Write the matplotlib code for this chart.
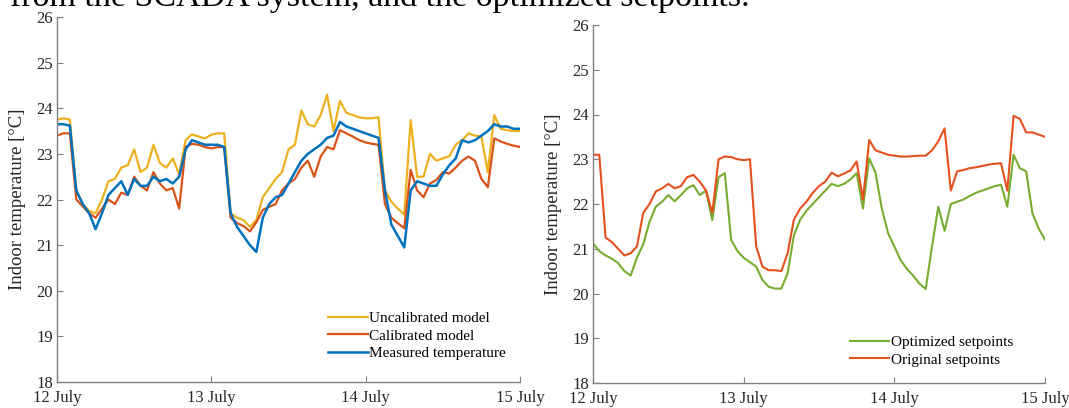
import matplotlib.pyplot as plt

plt.rcParams['font.family'] = ['Liberation Serif', 'DejaVu Serif']

# hours since 12 July 00:00, hourly readings
hours = list(range(73))

uncalibrated = [23.75, 23.78, 23.75, 22.2, 21.9, 21.75, 21.7, 22.0, 22.4, 22.45,
                22.7, 22.75, 23.1, 22.6, 22.7, 23.2, 22.8, 22.7, 22.9, 22.55,
                23.3, 23.43, 23.38, 23.34, 23.42, 23.45, 23.45, 21.7, 21.6, 21.55,
                21.4, 21.55, 22.05, 22.25, 22.45, 22.6, 23.1, 23.2, 23.95, 23.65,
                23.6, 23.85, 24.3, 23.5, 24.16, 23.9, 23.85, 23.8, 23.78, 23.78,
                23.8, 22.2, 21.95, 21.8, 21.67, 23.74, 22.5, 22.5, 23.0, 22.85,
                22.9, 22.95, 23.2, 23.3, 23.45, 23.4, 23.38, 22.6, 23.85, 23.55,
                23.52, 23.5, 23.5]

calibrated = [23.4, 23.45, 23.45, 22.0, 21.85, 21.7, 21.6, 21.8, 22.0, 21.9,
              22.15, 22.1, 22.5, 22.3, 22.2, 22.6, 22.35, 22.2, 22.25, 21.8,
              23.15, 23.22, 23.2, 23.15, 23.12, 23.15, 23.15, 21.6, 21.48, 21.42,
              21.3, 21.5, 21.77, 21.84, 21.9, 22.2, 22.35, 22.45, 22.7, 22.85,
              22.5, 22.94, 23.15, 23.1, 23.52, 23.45, 23.38, 23.3, 23.25, 23.22,
              23.2, 21.9, 21.6, 21.48, 21.37, 22.65, 22.2, 22.05, 22.35, 22.43,
              22.6, 22.57, 22.7, 22.85, 22.94, 22.85, 22.45, 22.27, 23.34, 23.27,
              23.22, 23.18, 23.15]

measured = [23.65, 23.65, 23.62, 22.2, 21.9, 21.7, 21.35, 21.7, 22.1, 22.25,
            22.4, 22.1, 22.45, 22.3, 22.3, 22.5, 22.4, 22.45, 22.35, 22.5,
            23.1, 23.3, 23.25, 23.2, 23.2, 23.2, 23.15, 21.7, 21.4, 21.2,
            21.0, 20.85, 21.6, 21.9, 22.05, 22.1, 22.35, 22.6, 22.85, 23.0,
            23.1, 23.2, 23.35, 23.4, 23.7, 23.6, 23.55, 23.5, 23.45, 23.4,
            23.35, 22.2, 21.45, 21.2, 20.95, 22.2, 22.4, 22.35, 22.3, 22.3,
            22.55, 22.75, 22.9, 23.3, 23.25, 23.3, 23.4, 23.5, 23.65, 23.6,
            23.6, 23.55, 23.55]

optimized = [21.12, 20.95, 20.85, 20.78, 20.68, 20.5, 20.4, 20.8, 21.1, 21.6,
             21.94, 22.05, 22.2, 22.06, 22.2, 22.35, 22.42, 22.2, 22.3, 21.64,
             22.6, 22.69, 21.2, 20.95, 20.8, 20.7, 20.6, 20.3, 20.15, 20.11,
             20.11, 20.45, 21.3, 21.65, 21.85, 22.0, 22.15, 22.3, 22.45, 22.4,
             22.45, 22.55, 22.69, 21.9, 23.02, 22.7, 21.9, 21.35, 21.05, 20.75,
             20.55, 20.4, 20.22, 20.1, 21.05, 21.94, 21.4, 22.0, 22.05, 22.1,
             22.18, 22.25, 22.3, 22.35, 22.4, 22.43, 21.94, 23.1, 22.8, 22.73,
             21.79, 21.45, 21.2]

original = [23.1, 23.1, 21.25, 21.15, 21.0, 20.85, 20.9, 21.05, 21.8, 22.0,
            22.28, 22.35, 22.45, 22.35, 22.4, 22.6, 22.65, 22.5, 22.3, 21.8,
            23.0, 23.06, 23.05, 23.0, 22.98, 23.0, 21.05, 20.6, 20.52, 20.52,
            20.5, 20.9, 21.65, 21.9, 22.05, 22.25, 22.4, 22.5, 22.7, 22.62,
            22.68, 22.75, 22.95, 22.1, 23.43, 23.2, 23.15, 23.1, 23.08, 23.06,
            23.06, 23.07, 23.08, 23.08, 23.2, 23.4, 23.69, 22.3, 22.73, 22.76,
            22.8, 22.82, 22.85, 22.88, 22.9, 22.91, 22.3, 23.97, 23.9, 23.6,
            23.6, 23.55, 23.5]

day_ticks = [0, 24, 48, 72]
day_labels = ['12 July', '13 July', '14 July', '15 July']
temp_ticks = list(range(18, 27))

W, H = 1069, 408
fig = plt.figure(figsize=(W / 100, H / 100), dpi=100)

fig.text(10 / W, 1 - 6 / H, 'from the SCADA system, and the optimized setpoints.',
         fontsize=24.5, va='baseline', ha='left', color='black')

ax1 = fig.add_axes([57 / W, 1 - 382 / H, (520 - 57) / W, (382 - 17) / H])
ax2 = fig.add_axes([593 / W, 1 - 383 / H, (1045 - 593) / W, (383 - 25) / H])

ax1.plot(hours, uncalibrated, color='#EDB120', lw=1.6, label='Uncalibrated model')
ax1.plot(hours, calibrated, color='#D95319', lw=1.6, label='Calibrated model')
ax1.plot(hours, measured, color='#0072BD', lw=1.8, label='Measured temperature')

ax2.plot(hours, optimized, color='#77AC30', lw=1.5, label='Optimized setpoints')
ax2.plot(hours, original, color='#E4501E', lw=1.5, label='Original setpoints')

for ax, anchor in ((ax1, (0.99, 0.035)), (ax2, (0.95, 0.02))):
    ax.set_xlim(0, 72)
    ax.set_ylim(18, 26)
    ax.set_xticks(day_ticks)
    ax.set_xticklabels(day_labels)
    ax.set_yticks(temp_ticks)
    for s in ('top', 'right'):
        ax.spines[s].set_visible(False)
    for s in ('left', 'bottom'):
        ax.spines[s].set_color('#808080')
        ax.spines[s].set_linewidth(1.0)
    ax.tick_params(direction='in', length=4, color='#808080', labelsize=12,
                   labelcolor='#262626')
    ax.tick_params(axis='y', pad=3)
    ax.tick_params(axis='x', pad=6)
    ax.set_ylabel('Indoor temperature [°C]', fontsize=13.5, color='#262626')
    ax.yaxis.set_label_coords(-0.068, 0.5)
    ax.legend(loc='lower right', bbox_to_anchor=anchor, frameon=False,
              fontsize=11, handlelength=2.6, handletextpad=0.1, labelspacing=0.25,
              borderaxespad=0.2)

fig.savefig('out.png', dpi=100)
